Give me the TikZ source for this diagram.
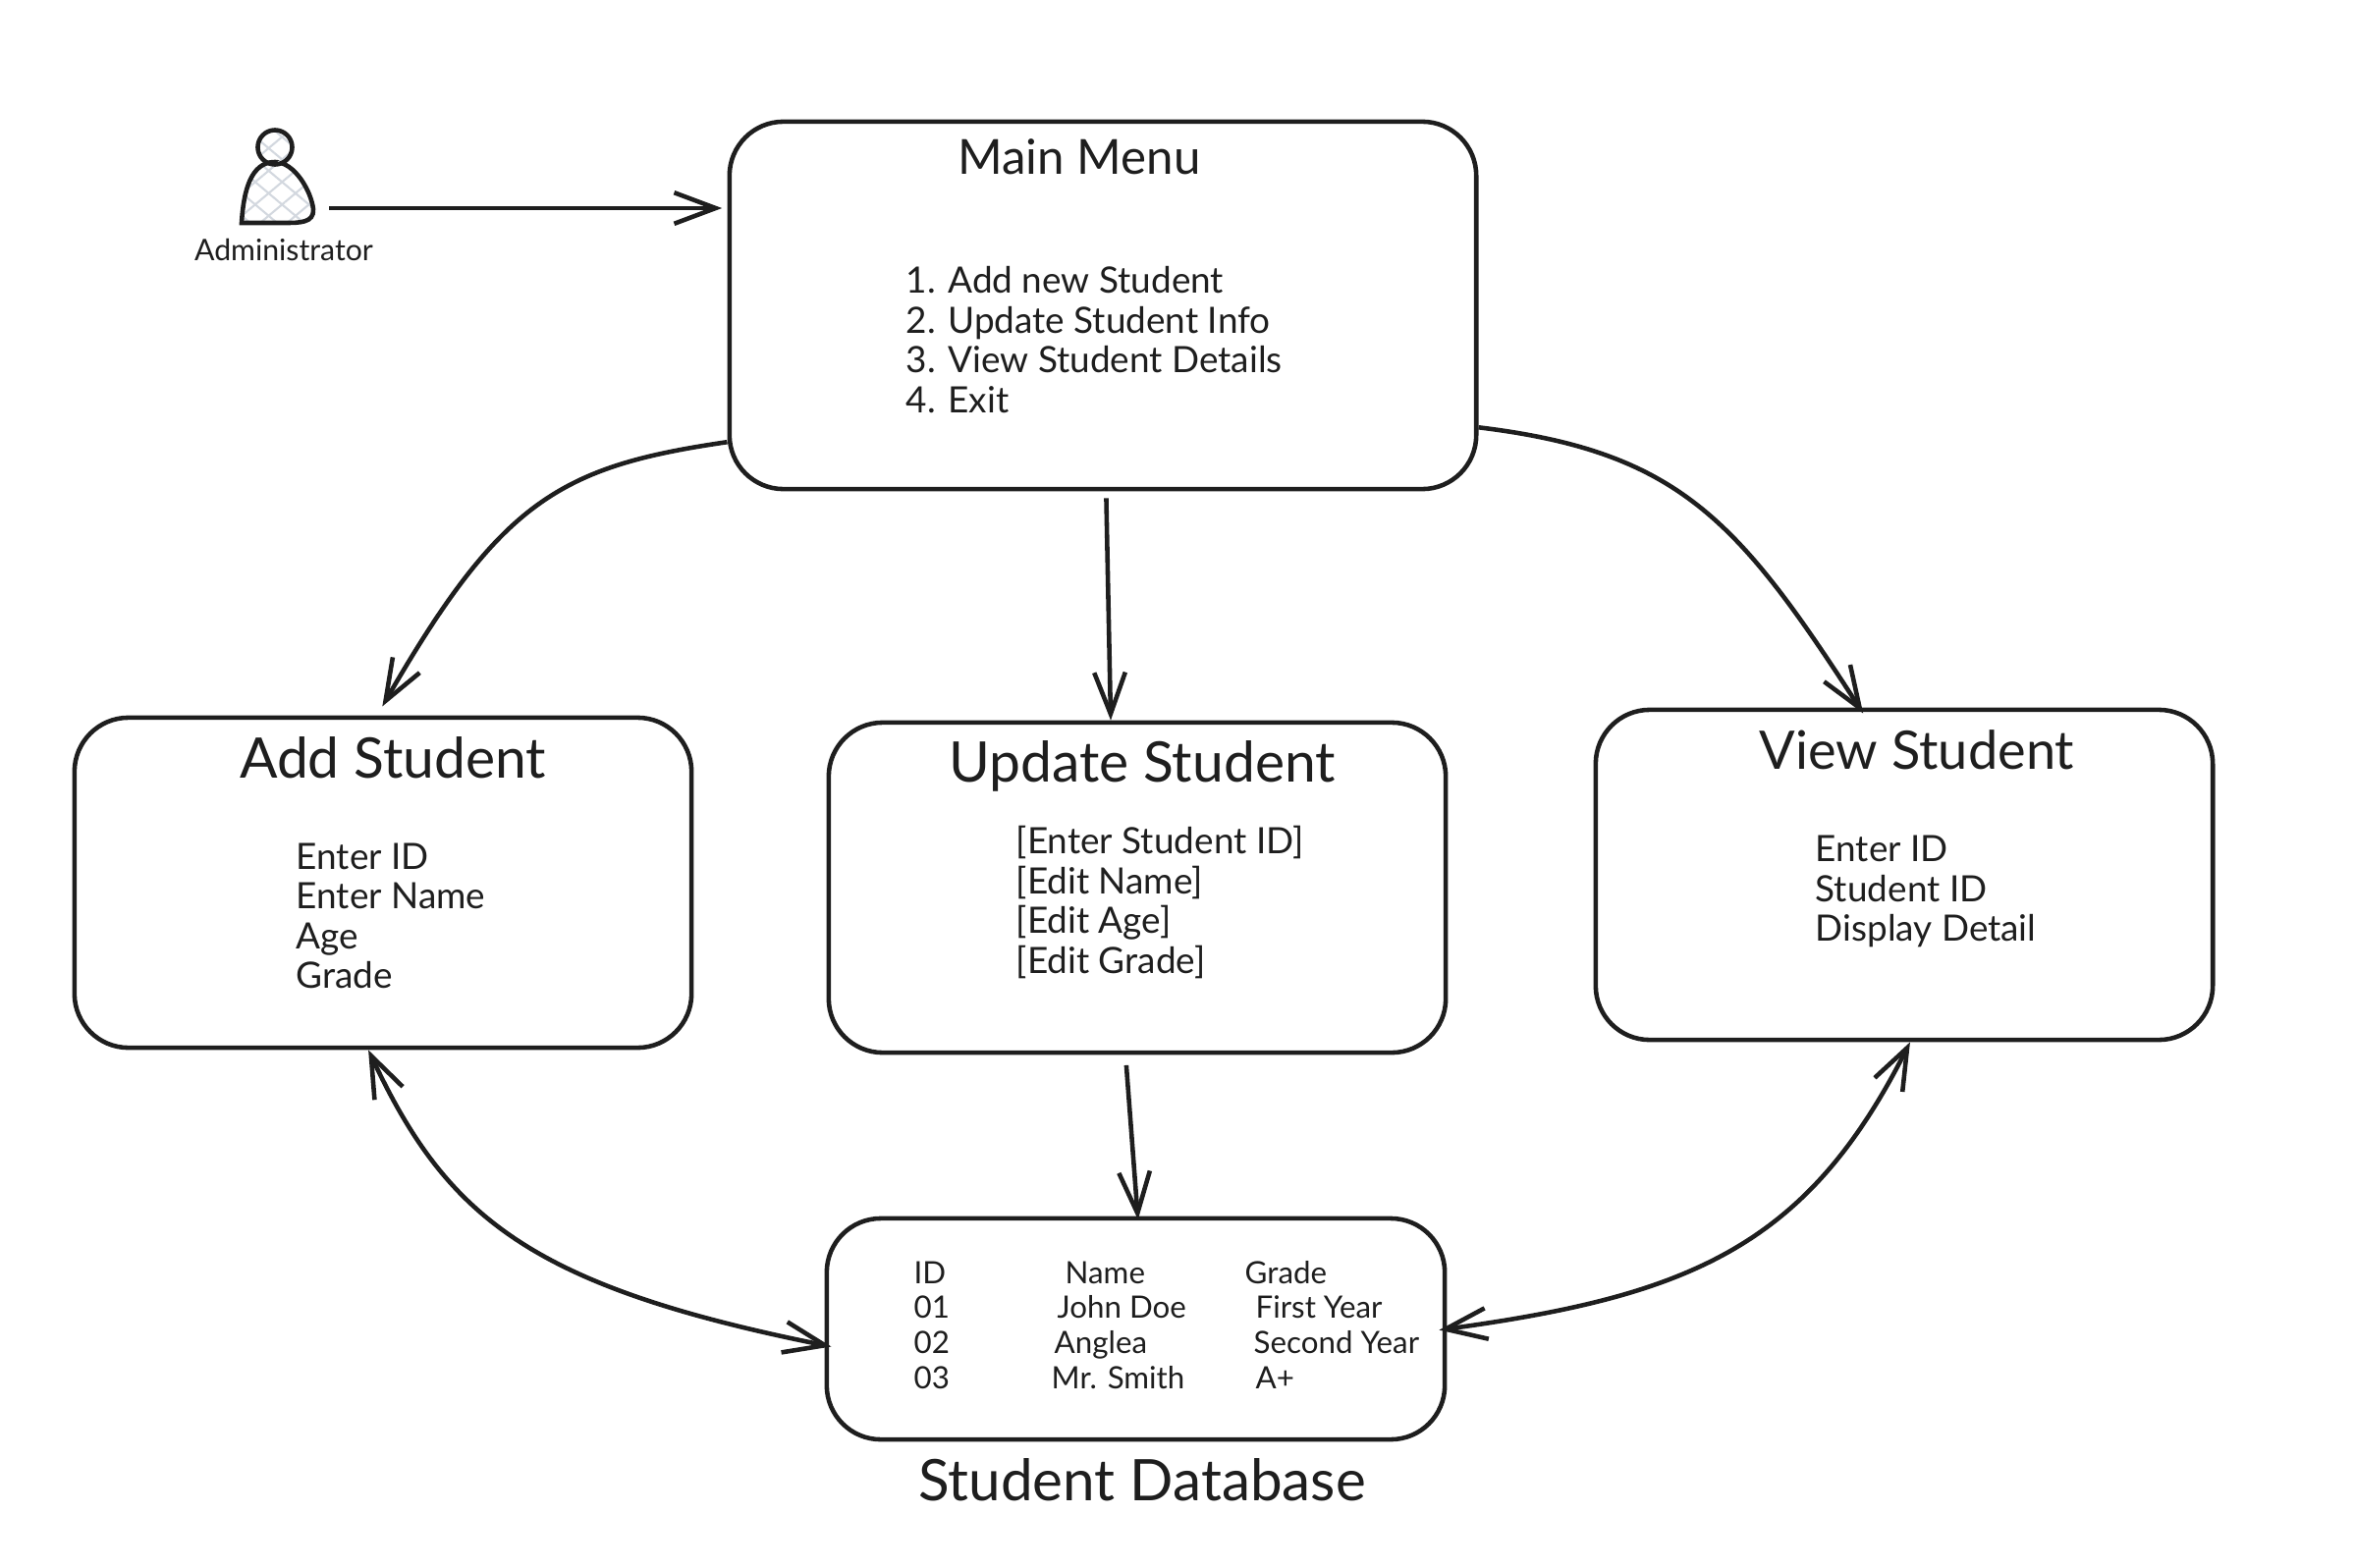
\documentclass[tikz,border=0pt]{standalone}
\usepackage{fontspec}
\setmainfont{Lato}
\usetikzlibrary{positioning,calc,arrows.meta,patterns.meta}
\definecolor{SketchInk}{HTML}{1E1E1E}
\definecolor{HatchGray}{HTML}{D3D8DF}
\tikzset{
  box/.style={draw=SketchInk,line width=1.3pt,rounded corners=0.55cm,inner sep=0pt},
  midbox/.style={box,minimum width=6.28cm,minimum height=3.36cm},
  title/.style={text=SketchInk,inner sep=0pt,font=\fontsize{#1}{19}\selectfont},
  body/.style={text=SketchInk,inner sep=0pt,anchor=west,align=left,font=\fontsize{10.5}{11.5}\selectfont},
  cell/.style={text=SketchInk,inner sep=0pt,anchor=base west,font=\fontsize{8.9}{10}\selectfont},
  flow/.style={draw=SketchInk,line width=1.3pt,-{Straight Barb[length=12pt,width=9pt]}},
  twoway/.style={draw=SketchInk,line width=1.3pt,{Straight Barb[length=12pt,width=9pt]}-{Straight Barb[length=12pt,width=9pt]}},
  hatched/.style={preaction={pattern={Lines[angle=40,distance=5pt,line width=.6pt]},pattern color=HatchGray},
    pattern={Lines[angle=-40,distance=5pt,line width=.6pt]},pattern color=HatchGray}
}

\begin{document}
\begin{tikzpicture}[x=0.01cm,y=-0.01cm]
  \useasboundingbox (0,0) rectangle (2397,1597);

  % boxes
  \node[box,minimum width=7.6cm,minimum height=3.74cm] (main) at (1123,311) {};
  \node[midbox] (add) at (390,899) {};
  \node[midbox] (update) at (1158,904) {};
  \node[midbox] (view) at (1939,891) {};
  \node[box,minimum width=6.29cm,minimum height=2.25cm] (db) at (1156.5,1353.5) {};

  % administrator
  \draw[SketchInk,line width=1.3pt,hatched] (246,227) .. controls (248,195) and (255,165) .. (280,165)
    .. controls (300,165) and (317,195) .. (319,213) .. controls (320,227) and (305,227) .. (290,227) -- cycle;
  \node[draw=SketchInk,line width=1.3pt,circle,hatched,inner sep=0pt,minimum size=0.35cm] (head) at (280,150) {};
  \node[text=SketchInk,inner sep=0pt,anchor=base,font=\fontsize{8.6}{10}\selectfont] (admin) at (289,265) {Administrator};
  \coordinate (adminout) at (335,212);

  % titles
  \node[title=14] (maintitle) at (1099,160) {Main Menu};
  \node[title=16.2] (addtitle) at (400,772) {Add Student};
  \node[title=16.2] (updatetitle) at (1163,780) {Update Student};
  \node[title=15.4] (viewtitle) at (1952,764) {View Student};
  \node[title=16.6] (dbtitle) at (1163,1507) {Student Database};

  % box texts
  \node[body] (mainlist) at (922,346) {1. Add new Student\\2. Update Student Info\\3. View Student Details\\4. Exit};
  \node[body] (addlist) at (301,933) {Enter ID\\Enter Name\\Age\\Grade};
  \node[body] (updatelist) at (1034,919) {{[Enter Student ID]}\\{[Edit Name]}\\{[Edit Age]}\\{[Edit Grade]}};
  \node[body] (viewlist) at (1848,908) {Enter ID\\Student ID\\Display Detail};

  % table
  \foreach \x/\y/\lab [count=\n] in {930/1307/ID,1084/1307/Name,1267/1307/Grade,
      930/1342/01,1076/1342/John Doe,1278/1342/First Year,
      930/1378/02,1073/1378/Anglea,1276/1378/Second Year,
      930/1414/03,1070/1414/Mr. Smith,1278/1414/A+}
    \node[cell] (cell\n) at (\x,\y) {\lab};

  % connectors
  \draw[flow,shorten >=1.5pt] (adminout) -- (main.west |- adminout);
  \draw[flow,shorten >=3pt] (main.200) .. controls (570,475) and (510,510) .. (add.92);
  \draw[flow,shorten <=2pt] (main.-89) -- (update.99);
  \draw[flow,shorten >=-2pt] (main.-18) .. controls (1710,460) and (1770,530) .. (view.105);
  \draw[flow,shorten <=3pt,shorten >=-1pt] (update.-94) -- (db.89);
  \draw[twoway,shorten >=-2pt] (add.-95) .. controls (455,1240) and (540,1310) .. (db.183);
  \draw[twoway,shorten >=-2.3pt] (view.-88) .. controls (1840,1270) and (1720,1320) .. (db.east);
\end{tikzpicture}
\end{document}
